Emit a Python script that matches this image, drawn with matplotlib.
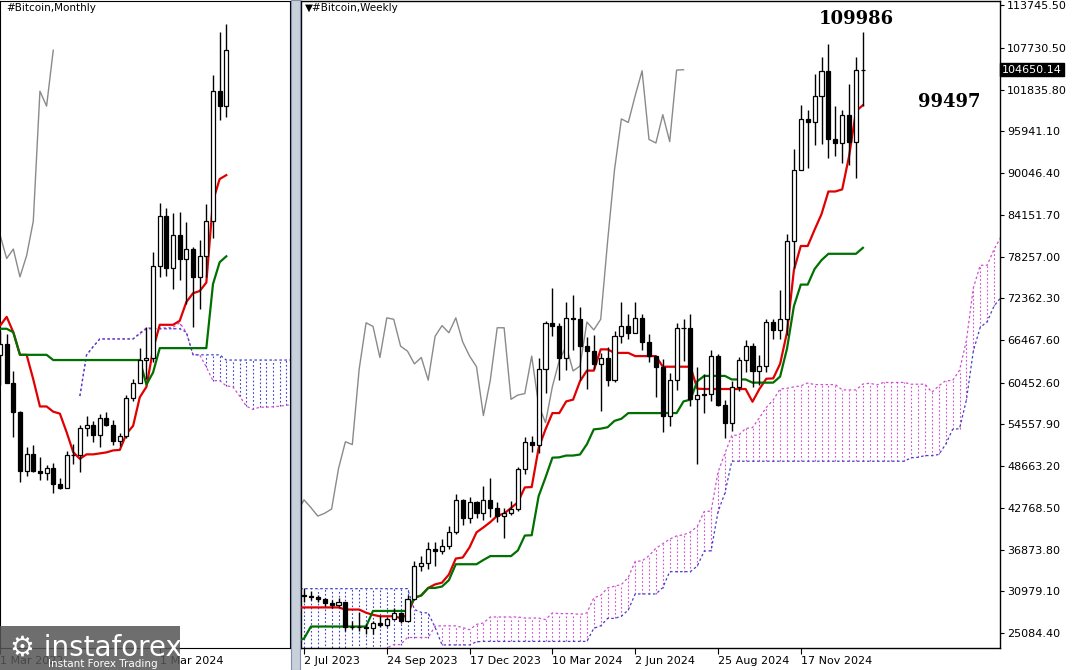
import numpy as np
import pandas as pd
import matplotlib
matplotlib.use("Agg")
import matplotlib.pyplot as plt
from matplotlib.patches import Rectangle

# ---------------- weekly data (k USD), first visible week = 25 Jun 2023 ----------------
pre_weekly_close = [41.8,43.1,35.1,37.9,42.4,42.2,38.4,39.1,38.0,37.8,41.3,44.5,46.4,40.5,39.7,39.5,
                    35.5,30.1,29.4,29.4,29.9,26.6,20.5,21.0,19.3,20.8,22.5,23.8,23.2,24.4,21.5,20.0,
                    19.8,21.8,18.8,19.0,19.4,19.1,19.2,20.6,20.9,16.3,16.3,16.5,17.1,17.1,16.8,16.8,16.5,
                    17.1,20.9,22.8,23.8,23.0,21.8,24.6,23.1,22.4,20.5,26.9,27.5,28.5,28.0,30.5,27.8,29.3,
                    28.9,26.9,27.1,26.9,27.1,25.9,26.3]
w_close = [30.5,30.3,30.2,29.9,29.3,29.0,29.4,26.0,26.0,25.9,
           25.8,26.5,26.2,27.0,27.9,26.8,29.9,34.5,35.0,37.0,
           36.6,37.4,39.4,43.9,41.3,43.6,42.1,43.9,42.8,41.6,
           42.0,42.6,48.3,52.1,51.7,62.4,68.9,68.4,64.0,69.6,
           69.4,65.6,64.9,63.1,64.0,60.8,67.0,68.5,67.5,69.6,
           66.2,64.2,62.7,55.8,60.8,68.2,68.2,58.1,58.7,58.9,
           64.2,57.3,54.8,59.9,63.6,65.6,62.1,62.8,69.0,67.9,
           69.4,80.4,90.5,97.7,97.2,101.0,104.5,94.8,94.3,98.3,
           94.5,104.6,104.65]
w_high = [31.4,31.5,31.0,30.4,30.0,29.7,30.0,29.5,26.8,28.1,
          26.4,26.8,27.5,27.3,28.6,28.0,30.4,35.2,35.9,38.0,
          37.9,38.4,40.2,44.7,44.0,44.3,43.8,45.9,47.0,43.6,
          42.8,43.8,48.6,52.8,52.9,63.9,69.2,73.8,68.9,71.8,
          72.8,71.2,66.9,67.2,64.7,65.5,67.7,71.9,70.1,71.9,
          70.2,67.3,64.1,63.8,61.8,68.9,69.4,70.1,62.6,61.7,
          65.0,64.5,58.0,60.7,64.1,66.5,66.0,64.4,69.4,69.5,
          73.6,81.5,93.5,99.6,98.9,104.0,106.5,108.3,99.5,99.0,
          102.7,106.4,109.99]
w_low = [29.5,29.5,29.8,29.5,28.9,28.6,28.8,25.3,25.6,25.3,
         24.9,24.9,25.9,26.0,26.9,26.5,26.8,29.7,33.9,34.1,
         34.5,36.3,36.9,39.0,40.3,40.6,41.4,41.1,41.5,40.7,
         38.5,41.8,42.3,47.5,50.6,50.5,59.0,67.0,60.8,62.3,
         65.1,60.8,59.6,62.4,56.5,60.0,60.6,66.0,66.6,67.6,
         65.1,63.3,58.4,53.5,54.3,59.4,63.5,57.1,49.0,56.1,
         57.8,57.2,52.6,53.6,59.2,61.9,59.9,60.1,62.0,66.6,
         66.6,67.2,76.6,90.8,90.8,94.0,94.2,92.2,92.5,91.5,
         91.2,89.3,99.5]
w_dates = ["2 Jul 2023","24 Sep 2023","17 Dec 2023","10 Mar 2024","2 Jun 2024","25 Aug 2024","17 Nov 2024"]
w_date_idx = [1,13,25,37,49,61,73]
y_ticks = [113745.50,107730.50,101835.80,95941.10,90046.40,84151.70,78257.00,72362.30,
           66467.60,60452.60,54557.90,48663.20,42768.50,36873.80,30979.10,25084.40]
last_price = 104650.14

# ---------------- monthly data (k USD), Jan 2021 .. Jan 2025 ----------------
m_close = [33.1,45.2,58.8,57.7,37.3,35.0,41.5,47.1,43.8,61.3,57.0,46.2,
           38.5,43.2,45.5,37.6,31.8,19.9,23.3,20.0,19.4,20.5,17.2,16.5,
           23.1,23.1,28.5,29.2,27.2,30.5,29.2,25.9,27.0,34.7,37.7,42.3,
           42.6,61.2,71.3,60.7,67.5,62.7,64.6,59.0,63.3,70.2,96.4,93.4,104.65]
m_high = [41.9,58.4,61.8,64.9,59.6,41.3,42.3,50.5,52.9,67.0,69.0,59.1,
          47.9,45.8,48.2,47.4,40.0,31.9,24.7,25.2,22.8,21.1,21.5,18.4,
          23.9,25.3,29.2,31.0,29.9,31.4,31.8,30.2,27.5,35.2,38.4,44.7,
          48.9,64.0,73.8,72.8,71.9,72.0,70.1,65.0,66.5,73.6,99.6,108.4,109.99]
m_low = [28.1,33.4,45.0,47.0,30.0,28.8,29.3,37.3,39.6,43.3,53.3,42.0,
         32.9,34.3,37.2,37.6,26.7,17.6,18.8,19.6,18.1,18.1,15.5,16.3,
         16.5,21.4,19.6,26.9,25.8,24.8,28.9,25.2,24.9,26.5,34.1,37.6,
         38.5,41.9,59.0,59.2,56.5,58.4,53.5,49.0,52.6,58.9,66.8,90.5,91.2]
m_first_open = 29.0


def ichimoku(high, low, close, n_pre):
    h = pd.Series(high); l = pd.Series(low)
    ten = (h.rolling(9, min_periods=1).max() + l.rolling(9, min_periods=1).min()) / 2
    kij = (h.rolling(26, min_periods=1).max() + l.rolling(26, min_periods=1).min()) / 2
    sb = (h.rolling(52, min_periods=1).max() + l.rolling(52, min_periods=1).min()) / 2
    sa = (ten + kij) / 2
    n = len(close)
    xs = np.arange(n) - n_pre
    return xs, ten.values, kij.values, xs + 26, sa.values, sb.values, xs - 26, np.array(close)


def draw_candles(ax, o, h, l, c, x0=0, w=0.6):
    for i in range(len(c)):
        x = x0 + i
        ax.vlines(x, l[i], h[i], color="black", lw=1, zorder=4)
        bull = c[i] >= o[i]
        lo, hi = min(o[i], c[i]), max(o[i], c[i])
        ax.add_patch(Rectangle((x - w / 2, lo), w, max(hi - lo, 0.15), facecolor="white" if bull else "black",
                               edgecolor="black", lw=0.9, zorder=5))


def draw_ichimoku(ax, xs, ten, kij, xcl, sa, sb, xch, ch, start):
    m = xs >= start
    ax.plot(xs[m], ten[m], color="#e00000", lw=1.6, zorder=3)
    ax.plot(xs[m], kij[m], color="#007000", lw=1.6, zorder=3)
    mc = xcl >= start
    for i in np.where(mc)[0]:
        col = "#d050d0" if sa[i] >= sb[i] else "#4040c8"
        ax.vlines(xcl[i], min(sa[i], sb[i]), max(sa[i], sb[i]), color=col, lw=0.8, linestyles=(0, (1.5, 2)), zorder=2)
    ax.plot(xcl[mc], sa[mc], color="#d050d0", lw=0.9, ls=(0, (2, 2)), zorder=2)
    ax.plot(xcl[mc], sb[mc], color="#4040c8", lw=0.9, ls=(0, (2, 2)), zorder=2)
    mk = xch >= start
    ax.plot(xch[mk], ch[mk], color="#8a8a8a", lw=1.0, zorder=2)


fig = plt.figure(figsize=(10.81, 6.70), dpi=100)
fig.patch.set_facecolor("white")
bot = 1 - 648 / 670

# ---------------- weekly (right) ----------------
axw = fig.add_axes([301 / 1081, bot, 699 / 1081, 1 - bot - 0.002])
npre = len(pre_weekly_close)
close_all = np.array(pre_weekly_close + w_close) * 1000
high_all = np.array(pre_weekly_close + w_high) * 1000
low_all = np.array(pre_weekly_close + w_low) * 1000
xs, ten, kij, xcl, sa, sb, xch, ch = ichimoku(high_all, low_all, close_all, npre)
draw_ichimoku(axw, xs, ten, kij, xcl, sa, sb, xch, ch, -1)
wc = np.array(w_close) * 1000
wo = np.concatenate([[pre_weekly_close[-1] * 1000], wc[:-1]])
draw_candles(axw, wo, np.array(w_high) * 1000, np.array(w_low) * 1000, wc)
pxw = 6.9
axw.set_xlim(1 - 3 / pxw, 1 + 696 / pxw)
ylo, yhi = 113745.5 - 644 * 140.96, 113745.5 + 4 * 140.96
axw.set_ylim(ylo, yhi)
axw.yaxis.tick_right()
axw.set_yticks(y_ticks)
axw.set_yticklabels([f"{v:.2f}" for v in y_ticks], fontsize=8, fontfamily="DejaVu Sans")
axw.set_xticks(w_date_idx)
axw.set_xticklabels(w_dates, fontsize=8, ha="left")
axw.tick_params(axis="y", direction="out", length=3, pad=2)
axw.tick_params(axis="x", direction="out", length=4, pad=2)
axw.text(0.005, 0.997, "\u25bc#Bitcoin,Weekly", transform=axw.transAxes, fontsize=7.5, va="top", ha="left")
axw.text(81, 109986 + 600, "109986", fontsize=13, fontweight="bold", fontfamily="DejaVu Serif", ha="center", va="bottom")
axw.text(90, 99497 + 600, "99497", fontsize=13, fontweight="bold", fontfamily="DejaVu Serif", ha="left", va="center")
axw.text(1.003, (last_price - ylo) / (yhi - ylo), f"{last_price:.2f}", transform=axw.transAxes, fontsize=8,
         color="white", va="center", ha="left", bbox=dict(facecolor="black", edgecolor="black", pad=1.2), zorder=10)
for s in axw.spines.values():
    s.set_linewidth(1.0)

# ---------------- monthly (left) ----------------
axm = fig.add_axes([0, bot, 290 / 1081, 1 - bot - 0.002])
mc_ = np.array(m_close) * 1000
mh = np.array(m_high) * 1000
ml = np.array(m_low) * 1000
xs, ten, kij, xcl, sa, sb, xch, ch = ichimoku(mh, ml, mc_, 0)
draw_ichimoku(axm, xs, ten, kij, xcl, sa, sb, xch, ch, 10)
mo = np.concatenate([[m_first_open * 1000], mc_[:-1]])
draw_candles(axm, mo, mh, ml, mc_)
pxm = 7.0
axm.set_xlim(48 - 223 / pxm, 48 + 67 / pxm)
axm.set_ylim(104650 - (648 - 49) * 201, 104650 + 49 * 201)
axm.set_yticks([])
axm.set_xticks([14, 38])
axm.set_xticklabels(["1 Mar 2022", "1 Mar 2024"], fontsize=8, ha="left")
axm.tick_params(axis="x", direction="out", length=4, pad=2)
axm.text(0.02, 0.997, "#Bitcoin,Monthly", transform=axm.transAxes, fontsize=7.5, va="top", ha="left")

# separator bar
fig.patches.append(Rectangle((291 / 1081, 0), 9 / 1081, 1, transform=fig.transFigure,
                             facecolor="#c8d0dc", edgecolor="#8090a8", lw=0.8, zorder=0))

# watermark logo
fig.patches.append(Rectangle((0, 0), 180 / 1081, 44 / 670, transform=fig.transFigure,
                             facecolor="#555555", alpha=0.85, edgecolor="none", zorder=20))
fig.text(10 / 1081, 22 / 670, "\u2699 instaforex", fontsize=20, color="white", va="center", ha="left", zorder=21)
fig.text(48 / 1081, 6 / 670, "Instant Forex Trading", fontsize=7.5, color="white", va="center", ha="left", zorder=21)

fig.savefig("out.png", dpi=100, facecolor="white")
